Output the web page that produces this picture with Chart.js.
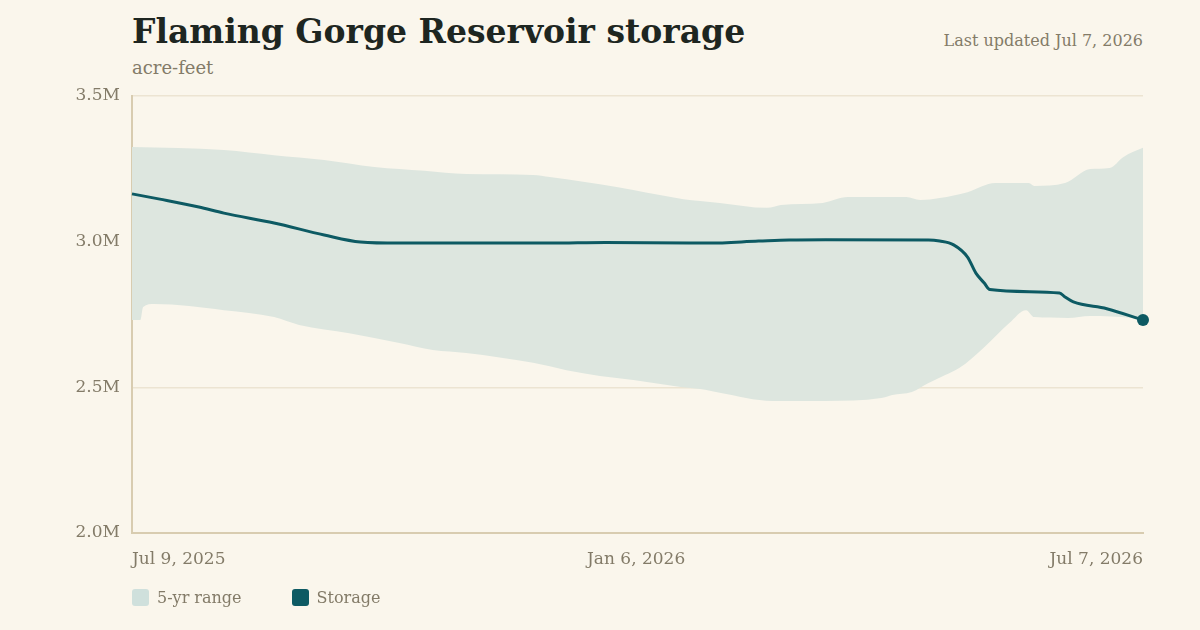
<!DOCTYPE html>
<html>
<head>
<meta charset="utf-8">
<script src="https://cdn.jsdelivr.net/npm/chart.js@4/dist/chart.umd.min.js"></script>
<style>
  body { margin: 0; background: #faf6ec; width: 1200px; height: 630px; overflow: hidden; position: relative; font-family: 'DejaVu Serif', serif; }
  #title { position: absolute; left: 132px; top: 12px; font-weight: 700; font-size: 33px; color: #1e2621; }
  #sub { position: absolute; left: 132px; top: 57px; font-size: 18px; color: #837b68; }
  #updated { position: absolute; right: 57px; top: 31px; font-size: 16px; color: #837b68; }
  #chart { position: absolute; left: 0; top: 0; }
  #legend { position: absolute; left: 132px; top: 588px; font-size: 16px; color: #837b68; display: flex; gap: 50px; }
  #legend span { display: inline-flex; align-items: center; }
  #legend i { display: inline-block; width: 17px; height: 17px; border-radius: 3px; margin-right: 8px; }
</style>
</head>
<body>
<div id="title">Flaming Gorge Reservoir storage</div>
<div id="sub">acre-feet</div>
<div id="updated">Last updated Jul 7, 2026</div>
<canvas id="chart" width="1200" height="630"></canvas>
<div id="legend">
  <span><i style="background:#cfe0dc"></i>5-yr range</span>
  <span><i style="background:#0d5a63"></i>Storage</span>
</div>
<script>
// days since Jul 9, 2025
const xTickDays = [0, 181, 363];
const xTickLabels = ['Jul 9, 2025', 'Jan 6, 2026', 'Jul 7, 2026'];
const yTicks = [2000000, 2500000, 3000000, 3500000];
const yTickLabels = ['2.0M', '2.5M', '3.0M', '3.5M'];

// 5-yr range, upper edge
const highDays = [0, 33, 51, 69, 87, 105, 120, 144, 150, 174, 180, 198, 204, 211, 228, 233, 248, 257, 269, 278, 283, 290, 300, 310, 322, 324, 335, 344, 351, 356, 363];
const highVals = [3325000, 3315000, 3297000, 3280000, 3256000, 3243000, 3232000, 3229000, 3222000, 3188000, 3177000, 3146000, 3140000, 3133000, 3116000, 3126000, 3133000, 3153000, 3153000, 3153000, 3143000, 3150000, 3170000, 3201000, 3201000, 3191000, 3201000, 3249000, 3253000, 3291000, 3322000];

// 5-yr range, lower edge
const lowDays = [0, 3, 4, 8, 33, 51, 60, 78, 96, 108, 120, 144, 156, 168, 180, 197, 204, 211, 230, 249, 269, 273, 280, 286, 292, 297, 306, 315, 321, 324, 336, 344, 359, 363];
const lowVals = [2731000, 2731000, 2776000, 2786000, 2765000, 2741000, 2714000, 2686000, 2652000, 2628000, 2618000, 2584000, 2559000, 2539000, 2525000, 2501000, 2494000, 2481000, 2453000, 2453000, 2463000, 2474000, 2484000, 2515000, 2542000, 2566000, 2638000, 2721000, 2765000, 2741000, 2738000, 2745000, 2738000, 2731000];

// storage
const storageDays = [0, 10, 24, 33, 51, 69, 82, 96, 150, 170, 200, 207, 225, 236, 249, 286, 290, 295, 300, 303, 306, 308, 333, 335, 338, 350, 363];
const storageVals = [3164000, 3146000, 3119000, 3098000, 3064000, 3023000, 2999000, 2995000, 2995000, 2997000, 2995000, 2995000, 3002000, 3006000, 3007000, 3006000, 3002000, 2989000, 2947000, 2892000, 2858000, 2836000, 2824000, 2810000, 2793000, 2770000, 2731000];

const pts = (d, v) => d.map((x, i) => ({ x: x, y: v[i] }));

const tickFont = { family: 'DejaVu Serif', size: 17 };
const muted = '#837b68';

new Chart(document.getElementById('chart'), {
  type: 'line',
  data: {
    datasets: [
      {
        label: 'Storage',
        data: pts(storageDays, storageVals),
        borderColor: '#0d5a63',
        backgroundColor: '#0d5a63',
        borderWidth: 3,
        pointRadius: ctx => ctx.dataIndex === storageDays.length - 1 ? 6 : 0,
        pointBorderWidth: 0,
        cubicInterpolationMode: 'monotone',
        fill: false,
        clip: false,
        order: 0
      },
      {
        label: '5-yr range',
        data: pts(highDays, highVals),
        borderWidth: 0,
        borderColor: 'rgba(0,0,0,0)',
        backgroundColor: '#dde6df',
        pointRadius: 0,
        cubicInterpolationMode: 'monotone',
        fill: '+1',
        order: 1
      },
      {
        label: 'low',
        data: pts(lowDays, lowVals),
        borderWidth: 0,
        borderColor: 'rgba(0,0,0,0)',
        pointRadius: 0,
        cubicInterpolationMode: 'monotone',
        fill: false,
        order: 2
      }
    ]
  },
  options: {
    responsive: false,
    animation: false,
    devicePixelRatio: 1,
    layout: { padding: { top: 96, left: 0, right: 57, bottom: 0 } },
    plugins: {
      legend: { display: false },
      tooltip: { enabled: false }
    },
    scales: {
      x: {
        type: 'linear',
        min: 0,
        max: 363,
        afterBuildTicks: scale => { scale.ticks = xTickDays.map(v => ({ value: v })); },
        afterFit: scale => { scale.height = 97; },
        grid: { display: false, drawTicks: false },
        border: { color: '#d8ccb0', width: 2 },
        ticks: {
          align: 'inner',
          maxRotation: 0,
          padding: 16,
          font: tickFont,
          color: muted,
          callback: v => xTickLabels[xTickDays.indexOf(v)]
        }
      },
      y: {
        min: 2000000,
        max: 3500000,
        afterBuildTicks: scale => { scale.ticks = yTicks.map(v => ({ value: v })); },
        afterFit: scale => { scale.width = 132; },
        grid: { color: '#ece4d2', lineWidth: 1.5, drawTicks: false },
        border: { color: '#d8ccb0', width: 2 },
        ticks: {
          padding: 12,
          font: tickFont,
          color: muted,
          callback: v => yTickLabels[yTicks.indexOf(v)]
        }
      }
    }
  }
});
</script>
</body>
</html>
